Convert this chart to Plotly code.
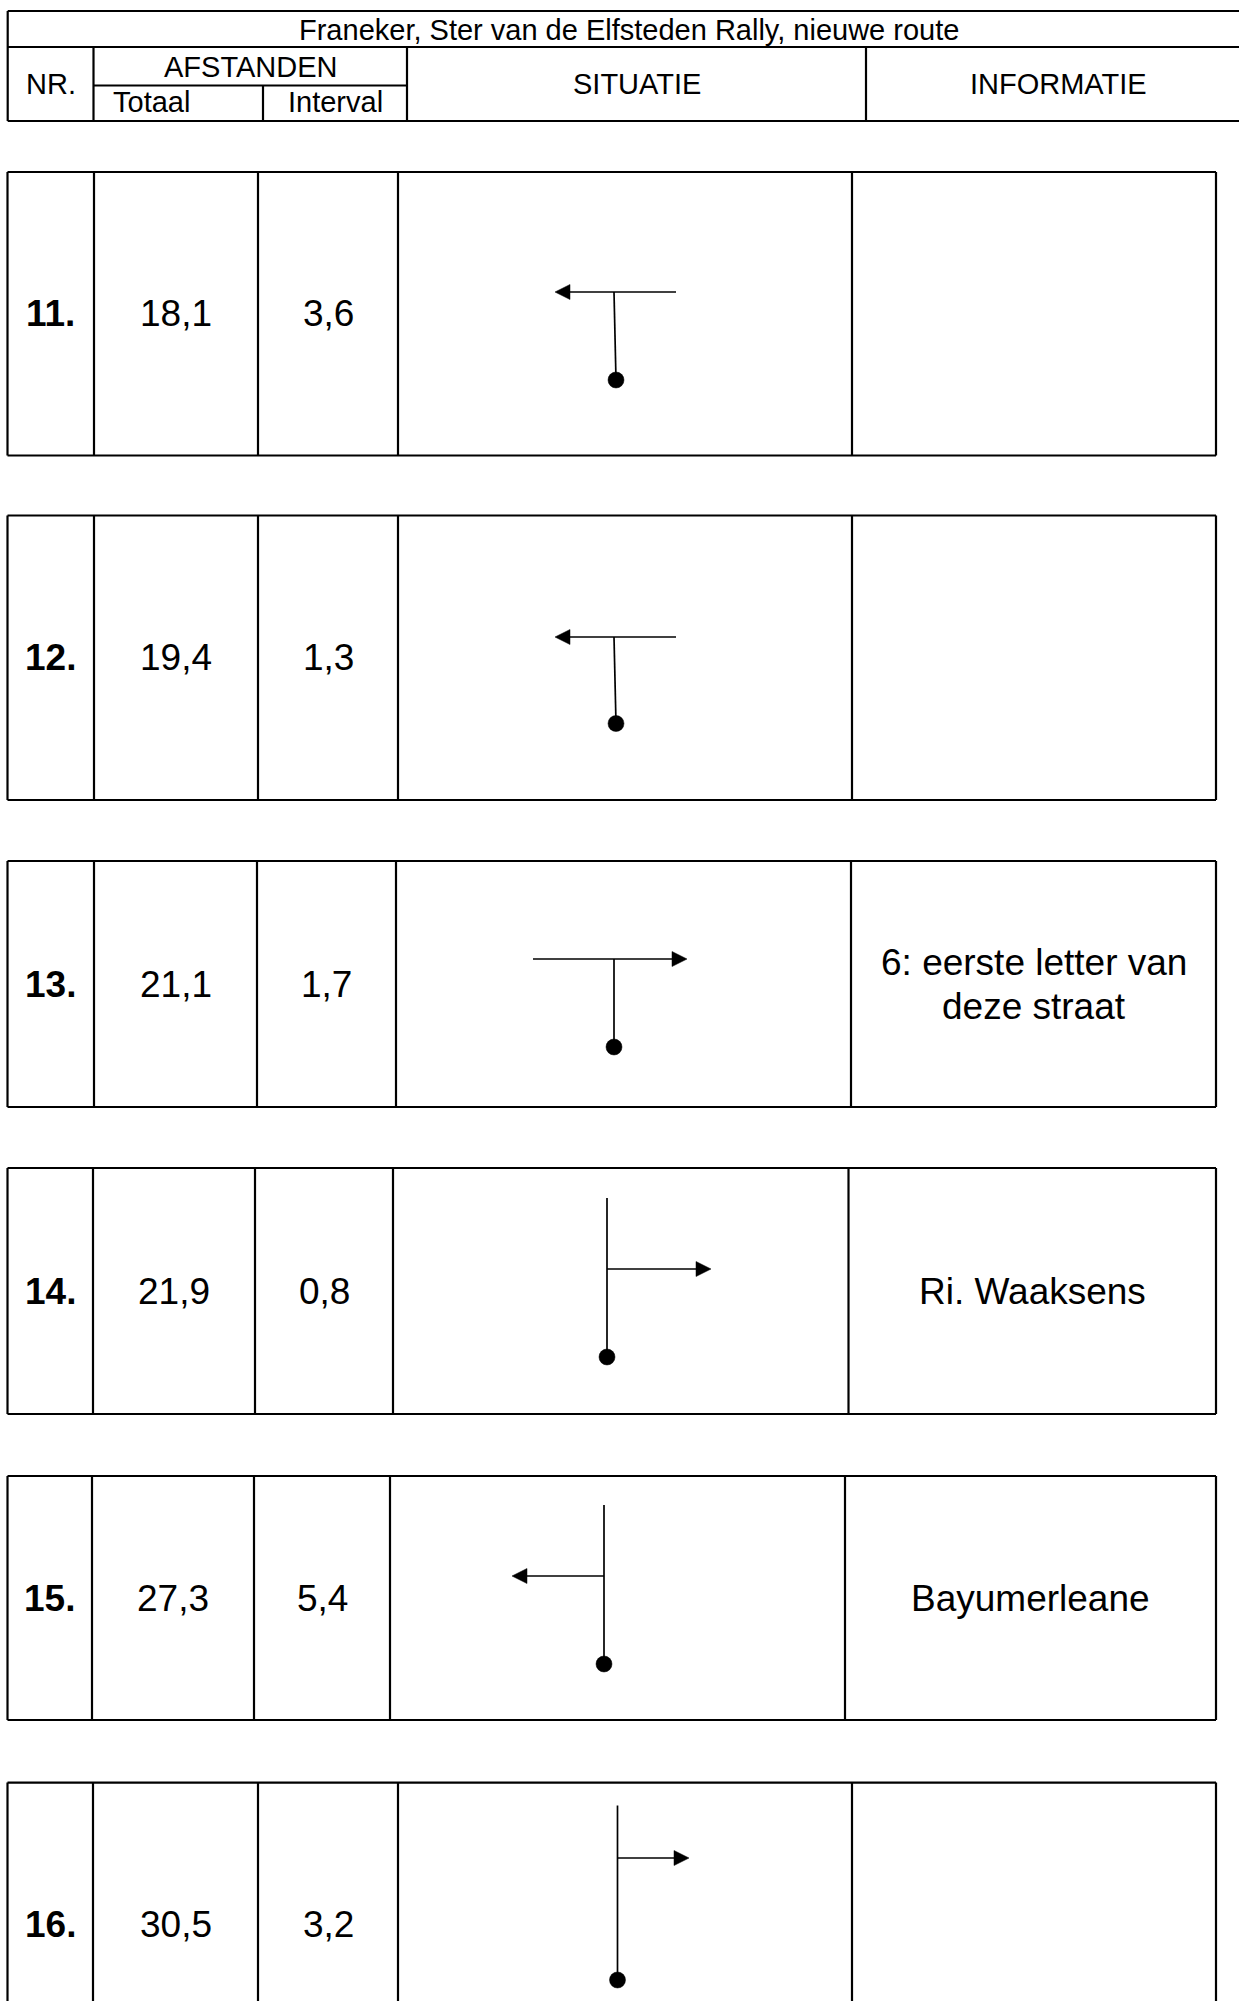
import plotly.graph_objects as go

# ---------------- data ----------------
title = "Franeker, Ster van de Elfsteden Rally, nieuwe route"
hdr_nr = "NR."
hdr_afst = "AFSTANDEN"
hdr_totaal = "Totaal"
hdr_interval = "Interval"
hdr_sit = "SITUATIE"
hdr_info = "INFORMATIE"

nrs = ["11.", "12.", "13.", "14.", "15.", "16."]
totaal = ["18,1", "19,4", "21,1", "21,9", "27,3", "30,5"]
interval = ["3,6", "1,3", "1,7", "0,8", "5,4", "3,2"]
informatie = [[], [], ["6: eerste letter van", "deze straat"], ["Ri. Waaksens"], ["Bayumerleane"], []]
situatie = ["T-links", "T-links", "T-rechts", "rechts", "links", "rechts"]

# ---------------- layout geometry (pixels) ----------------
W, H = 1239, 2001
FONT = "Arial, Liberation Sans, sans-serif"
BORDER = 2.2
THIN = 1.7

row_tops = [172, 515.5, 861, 1168, 1476, 1782.6]
row_bots = [455.5, 800, 1107, 1414, 1720, 2100]
row_cols = [
    [7.5, 94, 258, 398, 852, 1216],
    [7.5, 94, 258, 398, 852, 1216],
    [7.5, 94, 257, 396, 851, 1216],
    [7.5, 93, 255, 393, 848.5, 1216],
    [7.5, 92, 254, 390, 845, 1216],
    [7.5, 93, 258, 398, 852, 1216],
]
# symbol geometry per row: stem x (top,bottom), junction y, dot y, branch start/end x
sym_geo = [
    dict(sx0=614, sx1=616, jy=292, dy=380, hx0=676, hx1=555, top=None),
    dict(sx0=614, sx1=616, jy=637, dy=723.5, hx0=676, hx1=555, top=None),
    dict(sx0=614, sx1=614, jy=959, dy=1047, hx0=533, hx1=687, top=None),
    dict(sx0=607, sx1=607, jy=1269, dy=1357, hx0=607, hx1=711, top=1198),
    dict(sx0=604, sx1=604, jy=1576, dy=1664, hx0=604, hx1=512, top=1505),
    dict(sx0=617.5, sx1=617.5, jy=1858, dy=1980, hx0=617.5, hx1=689, top=1805.5),
]
AH_LEN, AH_HALF, DOT_R = 15, 7.5, 8

hdr = dict(x0=7.7, x_nr=93.5, x_tot=263, x_afst=407, x_sit=866, x1=1250,
           y0=11, y_title=47, y_sub=85.5, y1=121)

shapes = []
annots = []


def line(x0, y0, x1, y1, w=BORDER):
    shapes.append(dict(type="line", xref="x", yref="y", x0=x0, y0=y0, x1=x1, y1=y1,
                       line=dict(color="black", width=w)))


def text(x, y, s, size, bold=False, xanchor="center"):
    annots.append(dict(x=x, y=y, xref="x", yref="y", text=f"<b>{s}</b>" if bold else s,
                       showarrow=False, xanchor=xanchor, yanchor="middle",
                       font=dict(family=FONT, size=size, color="black")))


# ---------------- header ----------------
h = hdr
line(h["x0"], h["y0"], h["x1"], h["y0"])
line(h["x0"], h["y_title"], h["x1"], h["y_title"])
line(h["x0"], h["y1"], h["x1"], h["y1"])
line(h["x0"], h["y0"], h["x0"], h["y1"])
line(h["x_nr"], h["y_title"], h["x_nr"], h["y1"])
line(h["x_afst"], h["y_title"], h["x_afst"], h["y1"])
line(h["x_sit"], h["y_title"], h["x_sit"], h["y1"])
line(h["x_nr"], h["y_sub"], h["x_afst"], h["y_sub"])
line(h["x_tot"], h["y_sub"], h["x_tot"], h["y1"])
HS = 29
text((h["x0"] + h["x1"]) / 2, (h["y0"] + h["y_title"]) / 2 + 1, title, HS)
text((h["x0"] + h["x_nr"]) / 2, (h["y_title"] + h["y1"]) / 2, hdr_nr, HS)
text((h["x_nr"] + h["x_afst"]) / 2, (h["y_title"] + h["y_sub"]) / 2 + 1, hdr_afst, HS)
text(h["x_nr"] + 17, (h["y_sub"] + h["y1"]) / 2 - 1, hdr_totaal, HS, xanchor="left")
text((h["x_tot"] + h["x_afst"]) / 2, (h["y_sub"] + h["y1"]) / 2 - 1, hdr_interval, HS)
text((h["x_afst"] + h["x_sit"]) / 2, (h["y_title"] + h["y1"]) / 2, hdr_sit, HS)
text((h["x_sit"] + h["x1"]) / 2, (h["y_title"] + h["y1"]) / 2, hdr_info, HS)

# ---------------- rows ----------------
BS = 37
for i in range(len(nrs)):
    t, b, c = row_tops[i], row_bots[i], row_cols[i]
    line(c[0], t, c[-1], t)
    line(c[0], b, c[-1], b)
    for x in c:
        line(x, t, x, b)
    ym = (t + b) / 2 if b < H else (t + 455.5 - 172 + t) / 2
    text((c[0] + c[1]) / 2, ym, nrs[i], BS, bold=True)
    text((c[1] + c[2]) / 2, ym, totaal[i], BS)
    text((c[2] + c[3]) / 2, ym, interval[i], BS)
    info = informatie[i]
    n = len(info)
    for k, s in enumerate(info):
        text((c[4] + c[5]) / 2, ym + (k - (n - 1) / 2) * 44, s, BS)

    # situatie symbol
    g = sym_geo[i]
    kind = situatie[i]
    if kind.startswith("T-"):
        line(g["sx0"], g["jy"], g["sx1"], g["dy"], THIN)
    else:
        line(g["sx0"], g["top"], g["sx1"], g["dy"], THIN)
    dot_x = g["sx1"]
    tip = g["hx1"]
    d = 1 if tip > g["hx0"] else -1
    base = tip - d * AH_LEN
    line(g["hx0"], g["jy"], base, g["jy"], THIN)
    shapes.append(dict(type="path", xref="x", yref="y",
                       path=f"M {tip},{g['jy']} L {base},{g['jy'] - AH_HALF} L {base},{g['jy'] + AH_HALF} Z",
                       fillcolor="black", line=dict(color="black", width=0.5)))
    shapes.append(dict(type="circle", xref="x", yref="y",
                       x0=dot_x - DOT_R, x1=dot_x + DOT_R, y0=g["dy"] - DOT_R, y1=g["dy"] + DOT_R,
                       fillcolor="black", line=dict(color="black", width=0.5)))

fig = go.Figure()
fig.add_trace(go.Scatter(x=[0, W], y=[0, H], mode="markers", marker=dict(opacity=0),
                         hoverinfo="skip", showlegend=False))
fig.update_layout(
    width=W, height=H, margin=dict(l=0, r=0, t=0, b=0),
    paper_bgcolor="white", plot_bgcolor="white",
    xaxis=dict(range=[0, W], visible=False, fixedrange=True),
    yaxis=dict(range=[H, 0], visible=False, fixedrange=True),
    shapes=shapes, annotations=annots, showlegend=False,
)
fig.write_html("out.html", config={"displayModeBar": False},
               post_script="document.body.style.margin='0';document.body.style.overflow='hidden';")
